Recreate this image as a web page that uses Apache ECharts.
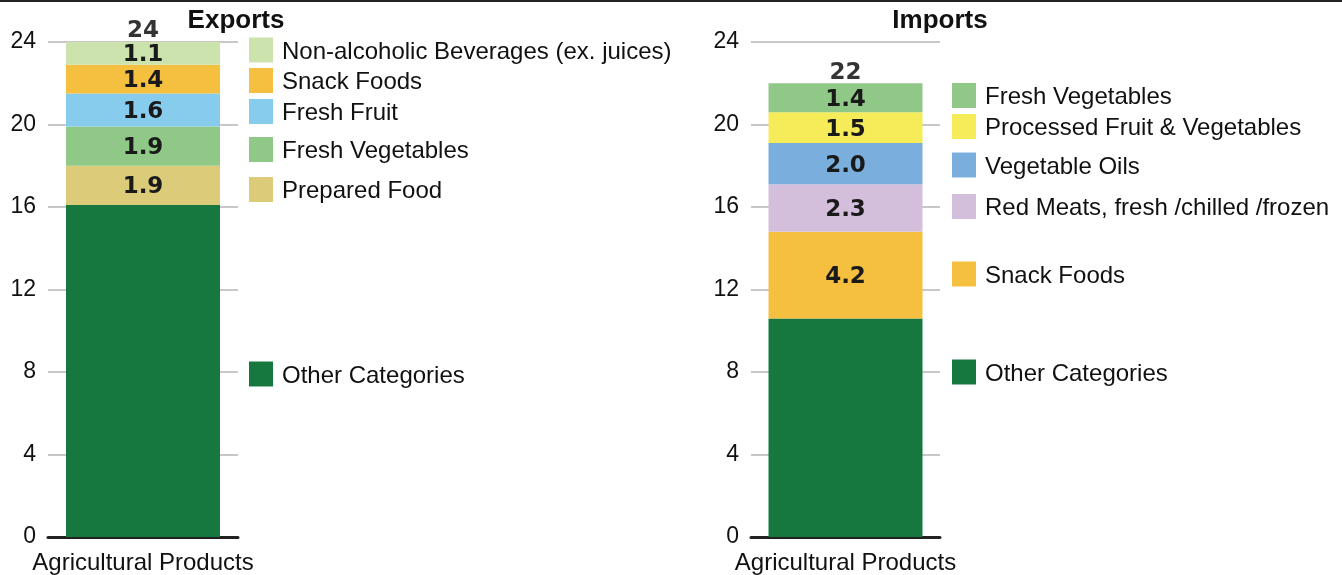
<!DOCTYPE html>
<html>
<head>
<meta charset="utf-8">
<script src="https://cdn.jsdelivr.net/npm/echarts@6/dist/echarts.min.js"></script>
<style>
  html, body { margin: 0; padding: 0; background: #fff; }
  #chart { width: 1342px; height: 575px; }
</style>
</head>
<body>
<div id="chart"></div>
<script>
// data (bottom segment first)
const category = ["Agricultural Products"]

const exportNames = ["Other Categories", "Prepared Food", "Fresh Vegetables", "Fresh Fruit", "Snack Foods", "Non-alcoholic Beverages (ex. juices)"]
const exportValues = [16.1, 1.9, 1.9, 1.6, 1.4, 1.1]
const exportTotal = 24

const importNames = ["Other Categories", "Snack Foods", "Red Meats, fresh /chilled /frozen", "Vegetable Oils", "Processed Fruit & Vegetables", "Fresh Vegetables"]
const importValues = [10.6, 4.2, 2.3, 2.0, 1.5, 1.4]
const importTotal = 22

const yTicks = [0, 4, 8, 12, 16, 20, 24]

// styles
const exportColors = ["#16783f", "#dccb78", "#90c987", "#88cced", "#f5bf3f", "#cde3ad"]
const importColors = ["#16783f", "#f5bf3f", "#d3bfdc", "#7aaedd", "#f6ec5a", "#90c987"]

// legend rows (pixel centres, measured from the layout)
const exportLegendY = [374, 189.5, 149.5, 111.5, 80.5, 50]
const importLegendY = [372, 274, 206.5, 165, 126.5, 95.5]

const FONT = "Liberation Sans, Arial, sans-serif"
const BOLD = "DejaVu Sans, sans-serif"

const chart = echarts.init(document.getElementById("chart"))

const makeBars = (names, values, colors, idx) =>
  names.map((name, i) => ({
    name: name,
    type: "bar",
    stack: "s" + idx,
    xAxisIndex: idx,
    yAxisIndex: idx,
    barWidth: 154,
    data: [values[i]],
    itemStyle: { color: colors[i] },
    label: {
      show: i > 0,
      position: "inside",
      offset: [0, 2],
      formatter: (p) => p.value.toFixed(1),
      fontFamily: BOLD,
      fontWeight: "bold",
      fontSize: 23,
      color: "#1a1a1a"
    }
  }))

const makeTotal = (total, idx) => ({
  type: "scatter",
  xAxisIndex: idx,
  yAxisIndex: idx,
  symbolSize: 0,
  data: [[0, total]],
  z: 5,
  label: {
    show: true,
    position: "top",
    distance: 0,
    offset: [0, 1],
    formatter: String(total),
    fontFamily: BOLD,
    fontWeight: "bold",
    fontSize: 23,
    color: "#000"
  }
})

const yAxis = (idx) => ({
  type: "value",
  gridIndex: idx,
  min: yTicks[0],
  max: yTicks[yTicks.length - 1],
  interval: 4,
  axisLine: { show: false },
  axisTick: { show: false },
  splitLine: { lineStyle: { color: "#c8c8c8", width: 2 } },
  axisLabel: { fontFamily: FONT, fontSize: 23, color: "#111", margin: 12 }
})

const xAxis = (idx) => ({
  type: "category",
  gridIndex: idx,
  data: category,
  axisLine: { show: true, lineStyle: { color: "#222", width: 3 } },
  axisTick: { show: false },
  axisLabel: { fontFamily: FONT, fontSize: 24, color: "#111", margin: 14 }
})

const legendItems = (names, colors, ys, x) => {
  const out = []
  names.forEach((name, i) => {
    out.push({
      type: "rect",
      shape: { x: x, y: ys[i] - 12.5, width: 24, height: 25 },
      style: { fill: colors[i] }
    })
    out.push({
      type: "text",
      style: {
        text: name,
        x: x + 33,
        y: ys[i] + 2,
        verticalAlign: "middle",
        font: "24px " + FONT,
        fill: "#111"
      }
    })
  })
  return out
}

const option = {
  animation: false,
  grid: [
    { left: 48, top: 42, width: 190, height: 495 },
    { left: 751, top: 42, width: 189, height: 495 }
  ],
  xAxis: [xAxis(0), xAxis(1)],
  yAxis: [yAxis(0), yAxis(1)],
  series: [
    ...makeBars(exportNames, exportValues, exportColors, 0),
    makeTotal(exportTotal, 0),
    ...makeBars(importNames, importValues, importColors, 1),
    makeTotal(importTotal, 1)
  ],
  graphic: [
    { type: "rect", shape: { x: 0, y: 0, width: 1342, height: 2 }, style: { fill: "#222" } },
    {
      type: "text",
      style: { text: "Exports", x: 236, y: 21, align: "center", verticalAlign: "middle", font: "bold 26px " + FONT, fill: "#111" }
    },
    {
      type: "text",
      style: { text: "Imports", x: 940, y: 21, align: "center", verticalAlign: "middle", font: "bold 26px " + FONT, fill: "#111" }
    },
    ...legendItems(exportNames, exportColors, exportLegendY, 249),
    ...legendItems(importNames, importColors, importLegendY, 952)
  ]
}

chart.setOption(option)
</script>
</body>
</html>
